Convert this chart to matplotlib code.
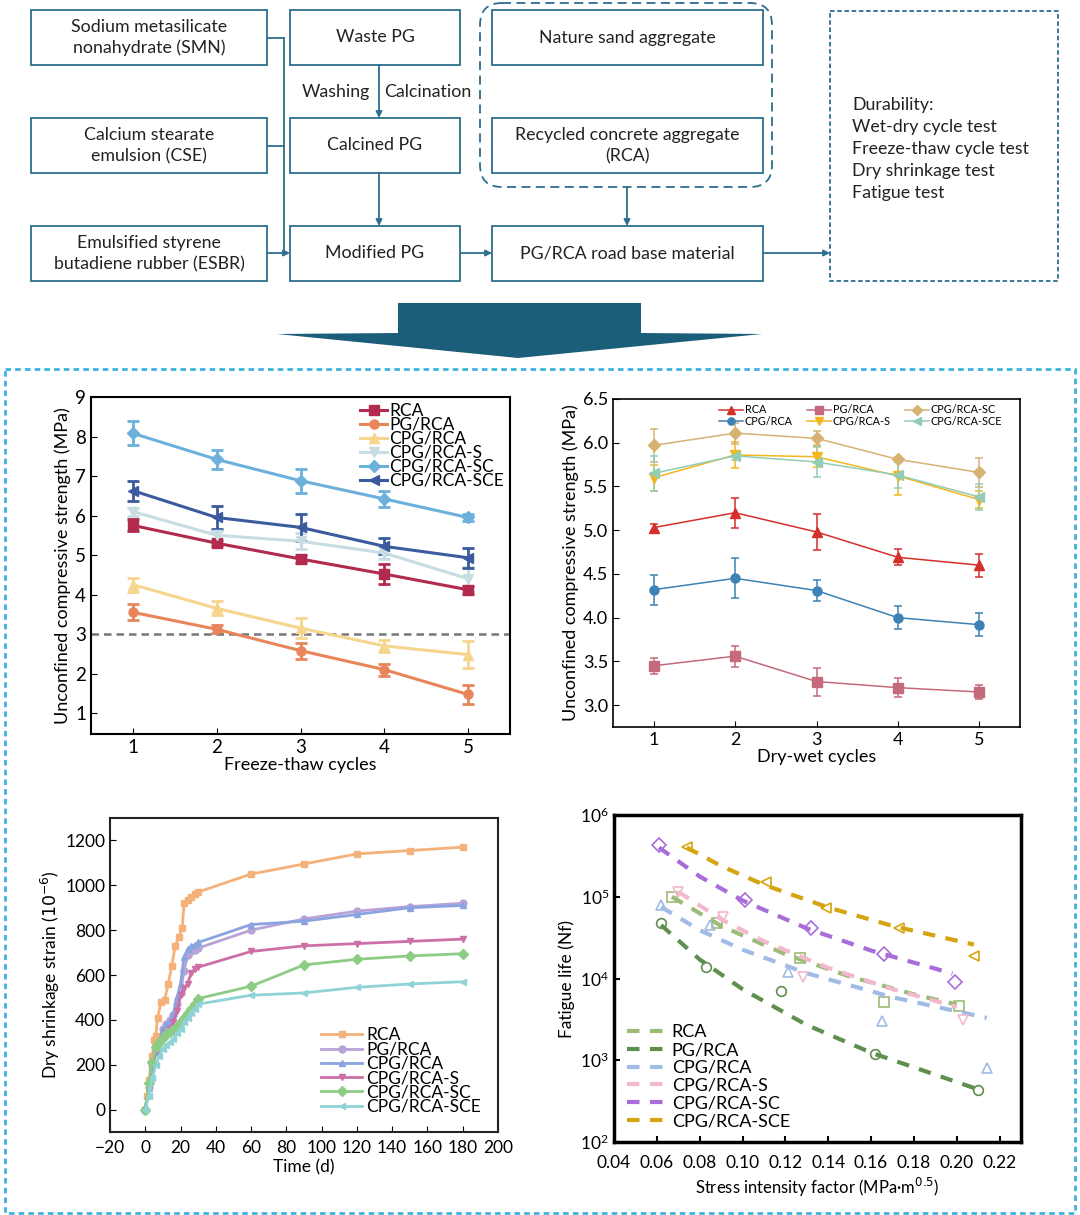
import matplotlib
matplotlib.use("Agg")
import matplotlib.pyplot as plt
from matplotlib.patches import Rectangle, FancyBboxPatch, Polygon
from matplotlib.ticker import FormatStrFormatter
import numpy as np

plt.rcParams['font.family'] = ['Lato', 'DejaVu Sans']

# ---------------- data ----------------
labels = ["RCA", "PG/RCA", "CPG/RCA", "CPG/RCA-S", "CPG/RCA-SC", "CPG/RCA-SCE"]
cycles = [1, 2, 3, 4, 5]

# freeze-thaw (panel a)
ft_mean = [
    [5.75, 5.30, 4.90, 4.52, 4.12],
    [3.55, 3.12, 2.58, 2.10, 1.47],
    [4.25, 3.65, 3.15, 2.70, 2.48],
    [6.10, 5.50, 5.35, 5.05, 4.40],
    [8.08, 7.42, 6.88, 6.42, 5.95],
    [6.63, 5.95, 5.70, 5.22, 4.93],
]
ft_err = [
    [0.15, 0.08, 0.10, 0.25, 0.10],
    [0.20, 0.10, 0.20, 0.15, 0.25],
    [0.18, 0.18, 0.25, 0.15, 0.35],
    [0.10, 0.10, 0.20, 0.15, 0.30],
    [0.30, 0.25, 0.30, 0.20, 0.10],
    [0.25, 0.30, 0.35, 0.20, 0.25],
]
ft_colors = ['#b22a4d', '#e8855a', '#f6d58e', '#c8dde3', '#6cb1dc', '#3b5b9e']
ft_markers = ['s', 'o', '^', 'v', 'D', '<']

# dry-wet (panel b)
dw_labels = ["RCA", "CPG/RCA", "PG/RCA", "CPG/RCA-S", "CPG/RCA-SC", "CPG/RCA-SCE"]
dw_mean = [
    [5.03, 5.20, 4.98, 4.69, 4.60],
    [4.32, 4.45, 4.31, 4.00, 3.92],
    [3.45, 3.56, 3.27, 3.20, 3.15],
    [5.60, 5.86, 5.84, 5.62, 5.35],
    [5.97, 6.11, 6.05, 5.81, 5.66],
    [5.65, 5.85, 5.78, 5.63, 5.38],
]
dw_err = [
    [0.04, 0.17, 0.21, 0.09, 0.13],
    [0.17, 0.23, 0.12, 0.13, 0.13],
    [0.09, 0.12, 0.16, 0.11, 0.08],
    [0.15, 0.15, 0.12, 0.22, 0.10],
    [0.19, 0.12, 0.08, 0.03, 0.17],
    [0.20, 0.05, 0.17, 0.15, 0.15],
]
dw_colors = ['#d42f2a', '#3c82b4', '#c46a7c', '#f3b61f', '#d6b273', '#93cdb6']
dw_markers = ['^', 'o', 's', 'v', 'D', '<']

# dry shrinkage (panel c)
t_rca = [0, 1, 2, 4, 5, 6, 7, 9, 11, 13, 15, 17, 19, 21, 22, 24, 26, 28, 30,
         60, 90, 120, 150, 180]
t_common = [0, 2, 4, 6, 8, 10, 12, 14, 16, 18, 20, 22, 24, 26, 28, 30,
            60, 90, 120, 150, 180]
sh_rca = [0, 60, 130, 240, 310, 330, 410, 480, 490, 560, 640, 730, 770, 810,
          920, 935, 950, 960, 970, 1050, 1095, 1140, 1155, 1170]
sh_pg = [0, 100, 200, 260, 300, 360, 380, 400, 420, 470, 520, 620, 690, 705,
         712, 720, 800, 850, 885, 905, 920]
sh_cpg = [0, 95, 190, 255, 300, 360, 380, 395, 430, 500, 560, 680, 715, 728,
          735, 745, 825, 840, 870, 900, 910]
sh_s = [0, 110, 200, 260, 290, 320, 340, 360, 390, 440, 510, 540, 560, 610,
        625, 635, 705, 730, 740, 750, 760]
sh_sc = [0, 120, 210, 280, 300, 320, 335, 345, 355, 370, 390, 410, 430, 450,
         470, 495, 550, 645, 670, 685, 695]
sh_sce = [0, 60, 140, 200, 240, 270, 290, 300, 315, 340, 360, 390, 410, 430,
          450, 470, 510, 520, 545, 560, 570]
sh_times = [t_rca, t_common, t_common, t_common, t_common, t_common]
sh_vals = [sh_rca, sh_pg, sh_cpg, sh_s, sh_sc, sh_sce]
sh_colors = ['#f4b27a', '#b9a3d6', '#8aa4e0', '#cc6fa6', '#8ccc84', '#8fd3d6']

# fatigue (panel d): measured points
fa_x = [
    [0.067, 0.088, 0.127, 0.166, 0.201],
    [0.062, 0.083, 0.118, 0.162, 0.210],
    [0.062, 0.085, 0.121, 0.165, 0.214],
    [0.070, 0.091, 0.128, 0.203],
    [0.061, 0.101, 0.132, 0.166, 0.199],
    [0.074, 0.111, 0.139, 0.173, 0.208],
]
fa_y = [
    [1.0e5, 4.8e4, 1.8e4, 5.1e3, 4.6e3],
    [4.8e4, 1.4e4, 7.0e3, 1.2e3, 430],
    [8.0e4, 4.5e4, 1.2e4, 3.0e3, 800],
    [1.15e5, 5.7e4, 1.05e4, 3.1e3],
    [4.3e5, 9.2e4, 4.1e4, 2.0e4, 9.0e3],
    [4.1e5, 1.5e5, 7.3e4, 4.2e4, 1.9e4],
]
# fatigue (panel d): fitted curves
fit_x = [
    [0.067, 0.09, 0.12, 0.15, 0.18, 0.200],
    [0.062, 0.08, 0.10, 0.13, 0.16, 0.210],
    [0.062, 0.08, 0.10, 0.13, 0.17, 0.214],
    [0.070, 0.09, 0.11, 0.14, 0.17, 0.200],
    [0.061, 0.08, 0.10, 0.13, 0.16, 0.198],
    [0.074, 0.09, 0.11, 0.14, 0.17, 0.208],
]
fit_y = [
    [1.0e5, 4.4e4, 1.98e4, 1.06e4, 6.4e3, 4.8e3],
    [4.5e4, 1.71e4, 7.4e3, 2.7e3, 1.24e3, 440],
    [7.5e4, 3.9e4, 2.25e4, 1.16e4, 5.9e3, 3.3e3],
    [1.15e5, 5.3e4, 2.85e4, 1.35e4, 7.4e3, 4.5e3],
    [4.0e5, 1.77e5, 9.0e4, 4.1e4, 2.2e4, 1.15e4],
    [4.0e5, 2.38e5, 1.4e5, 7.4e4, 4.4e4, 2.6e4],
]
fa_colors = ['#9dbb78', '#5f8f4f', '#9fbbe6', '#f2b9cc', '#a86cdb', '#d6a40f']
fa_markers = ['s', 'o', '^', 'v', 'D', '<']

# ---------------- figure ----------------
W, H = 1080, 1215
fig = plt.figure(figsize=(10.8, 12.15), dpi=100)


def px_axes(l, t, r, b):
    return fig.add_axes([l / W, 1 - b / H, (r - l) / W, (b - t) / H])


# overlay for flowchart
ov = fig.add_axes([0, 0, 1, 1])
ov.set_xlim(0, W)
ov.set_ylim(H, 0)
ov.axis('off')
ov.patch.set_alpha(0)

bc = '#2c6e8c'
tc = '#222222'
fs_flow = 12.8
boxes = [
    (31, 10, 267, 65, "Sodium metasilicate\nnonahydrate (SMN)"),
    (31, 118, 267, 173, "Calcium stearate\nemulsion (CSE)"),
    (31, 226, 267, 281, "Emulsified styrene\nbutadiene rubber (ESBR)"),
    (290, 10, 460, 65, "Waste PG"),
    (290, 118, 460, 173, "Calcined PG"),
    (290, 226, 460, 281, "Modified PG"),
    (492, 10, 763, 65, "Nature sand aggregate"),
    (492, 118, 763, 173, "Recycled concrete aggregate\n(RCA)"),
    (492, 226, 763, 281, "PG/RCA road base material"),
]
for l, t, r, b, s in boxes:
    ov.add_patch(Rectangle((l, t), r - l, b - t, fill=False, ec=bc, lw=1.3))
    ov.text((l + r) / 2, (t + b) / 2, s, ha='center', va='center',
            fontsize=fs_flow, linespacing=1.4, color=tc)

# dashed rounded group
ov.add_patch(FancyBboxPatch((480, 3), 292, 184, boxstyle="round,pad=0,rounding_size=22",
                            fill=False, ec=bc, lw=1.3, ls=(0, (5, 3))))
# durability box
ov.add_patch(Rectangle((830, 11), 228, 270, fill=False, ec=bc, lw=1.3,
                       ls=(0, (2.5, 1.5))))
ov.text(852, 149, "Durability:\nWet-dry cycle test\nFreeze-thaw cycle test\n"
        "Dry shrinkage test\nFatigue test", ha='left', va='center',
        fontsize=fs_flow, linespacing=1.45, color=tc)

# connectors
for y in (38, 146):
    ov.plot([267, 284], [y, y], color=bc, lw=1.3)
ov.plot([284, 284], [38, 253], color=bc, lw=1.3)
aprops = dict(arrowstyle='-|>', color=bc, lw=1.3, mutation_scale=9,
              shrinkA=0, shrinkB=0)
ov.annotate("", xy=(290, 253), xytext=(267, 253), arrowprops=aprops)
ov.annotate("", xy=(379, 118), xytext=(379, 65), arrowprops=aprops)
ov.annotate("", xy=(379, 226), xytext=(379, 173), arrowprops=aprops)
ov.annotate("", xy=(492, 253), xytext=(460, 253), arrowprops=aprops)
ov.annotate("", xy=(627, 226), xytext=(627, 187), arrowprops=aprops)
ov.annotate("", xy=(830, 253), xytext=(763, 253), arrowprops=aprops)
ov.text(370, 92, "Washing", ha='right', va='center', fontsize=fs_flow, color=tc)
ov.text(384, 92, "Calcination", ha='left', va='center', fontsize=fs_flow, color=tc)

# big arrow
ov.add_patch(Polygon([(398, 303), (641, 303), (641, 333), (762, 334), (518, 358),
                      (277, 334), (398, 333)], closed=True, fc='#1a5e7a', ec='none'))
# dotted border around charts
ov.add_patch(Rectangle((5, 369), 1070, 844, fill=False, ec='#3cb4e0', lw=2,
                       ls=(0, (2, 1.5))))

# ---------------- panel a ----------------
ax1 = px_axes(91, 397, 510, 734)
h1 = []
for m, e, c, mk, lb in zip(ft_mean, ft_err, ft_colors, ft_markers, labels):
    eb = ax1.errorbar(cycles, m, yerr=e, color=c, marker=mk, ms=6.5, lw=2.2,
                      capsize=4, elinewidth=2, capthick=2, label=lb)
    h1.append(eb.lines[0])
ax1.axhline(3, color='#777777', ls=(0, (3, 2)), lw=1.8)
ax1.set_xlim(0.5, 5.5)
ax1.set_ylim(0.47, 9)
ax1.set_xticks(cycles)
ax1.set_yticks(range(1, 10))
ax1.tick_params(direction='in', labelsize=13.5, length=4)
ax1.set_xlabel("Freeze-thaw cycles", fontsize=13, labelpad=1)
ax1.set_ylabel("Unconfined compressive strength (MPa)", fontsize=13, labelpad=3)
for s in ax1.spines.values():
    s.set_linewidth(1.5)
ax1.legend(h1, labels, loc='upper right', frameon=False, fontsize=12.5,
           handlelength=1.6, handletextpad=0.1, labelspacing=-0.12,
           borderaxespad=0.15, borderpad=0.2)

# ---------------- panel b ----------------
ax2 = px_axes(613, 399, 1020, 727)
h2 = []
for m, e, c, mk, lb in zip(dw_mean, dw_err, dw_colors, dw_markers, dw_labels):
    eb = ax2.errorbar(cycles, m, yerr=e, color=c, marker=mk, ms=6.5, lw=1.1,
                      capsize=3, elinewidth=1.1, capthick=1.1, label=lb)
    h2.append(eb.lines[0])
ax2.set_xlim(0.5, 5.5)
ax2.set_ylim(2.75, 6.5)
ax2.set_xticks(cycles)
ax2.set_yticks(np.arange(3.0, 6.51, 0.5))
ax2.yaxis.set_major_formatter(FormatStrFormatter('%.1f'))
ax2.tick_params(direction='in', labelsize=13, length=4)
ax2.set_xlabel("Dry-wet cycles", fontsize=13, labelpad=1)
ax2.set_ylabel("Unconfined compressive strength (MPa)", fontsize=13, labelpad=3)
for s in ax2.spines.values():
    s.set_linewidth(1.2)
ax2.legend(h2, dw_labels, loc='upper right', ncol=3, frameon=False, fontsize=7.8,
           handlelength=2.2, handletextpad=0.2, labelspacing=0.05,
           columnspacing=1.3, markerscale=0.8, borderaxespad=0.1,
           bbox_to_anchor=(0.97, 1.0))

# ---------------- panel c ----------------
ax3 = px_axes(110, 818, 498, 1132)
for t, v, c, mk, lb in zip(sh_times, sh_vals, sh_colors, fa_markers, labels):
    ax3.plot(t, v, color=c, marker=mk, ms=5, lw=2, label=lb)
ax3.set_xlim(-20, 200)
ax3.set_ylim(-100, 1300)
ax3.set_xticks(range(-20, 201, 20))
ax3.set_yticks(range(0, 1201, 200))
ax3.tick_params(direction='in', labelsize=12.5, length=4)
ax3.tick_params(axis='x', pad=6)
ax3.set_xlabel("Time (d)", fontsize=12.5, labelpad=2)
ax3.set_ylabel(r"Dry shrinkage strain ($10^{-6}$)", fontsize=12.5, labelpad=2)
for s in ax3.spines.values():
    s.set_linewidth(1.5)
    s.set_color('#222222')
ax3.legend(loc='lower right', frameon=False, fontsize=12.5, handlelength=2.4,
           handletextpad=0.2, labelspacing=-0.1, borderaxespad=0.6)

# ---------------- panel d ----------------
ax4 = px_axes(614, 815, 1021, 1142)
for x, y, fx, fy, c, mk, lb in zip(fa_x, fa_y, fit_x, fit_y, fa_colors,
                                   fa_markers, labels):
    ax4.plot(fx, fy, color=c, lw=3, ls=(0, (3, 2.5)), label=lb)
    ax4.plot(x, y, ls='none', marker=mk, ms=7, mfc='none', mec=c, mew=1.2)
ax4.set_yscale('log')
ax4.set_xlim(0.04, 0.23)
ax4.set_ylim(1e2, 1e6)
ax4.set_xticks(np.arange(0.04, 0.221, 0.02))
ax4.xaxis.set_major_formatter(FormatStrFormatter('%.2f'))
ax4.minorticks_off()
ax4.tick_params(direction='in', labelsize=12.5, length=4, width=1.5)
ax4.tick_params(axis='x', pad=9)
ax4.set_xlabel(r"Stress intensity factor (MPa·m$^{0.5}$)", fontsize=12, labelpad=4)
ax4.set_ylabel("Fatigue life (Nf)", fontsize=12.5, labelpad=4)
for s in ax4.spines.values():
    s.set_linewidth(2.5)
ax4.legend(loc='lower left', frameon=False, fontsize=13, handlelength=2.4,
           handletextpad=0.1, labelspacing=0.1, borderaxespad=0.3)

fig.savefig("out.png", dpi=100)
